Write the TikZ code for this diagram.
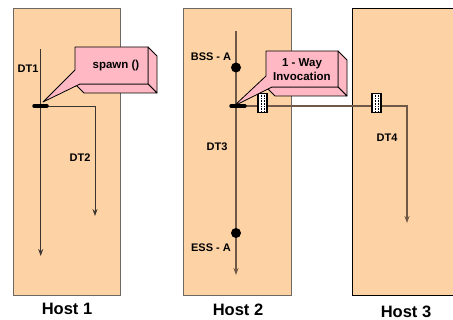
\documentclass[tikz,border=0pt]{standalone}
\usepackage{fontspec}
\setmainfont{Liberation Sans}
\usetikzlibrary{arrows.meta}
\definecolor{hostfill}{RGB}{253,211,165}
\definecolor{hostedge}{RGB}{110,104,98}
\definecolor{calloutpink}{RGB}{255,184,196}
\definecolor{thread}{RGB}{60,52,46}
\definecolor{threadb}{RGB}{112,88,70}
\tikzset{
  host/.style={fill=hostfill,draw=hostedge,line width=0.9pt},
  lbl/.style={font=\fontsize{11}{12}\selectfont\bfseries,inner sep=0pt},
  hostlbl/.style={font=\fontsize{16.5}{18}\selectfont\bfseries,inner sep=0pt},
  thr/.style={draw=thread,line width=0.9pt},
  thrb/.style={draw=threadb,line width=1.6pt},
  tip/.style={-{Stealth[length=7pt,width=5pt]}},
  bar/.style={line width=3.5pt,line cap=round,black},
  dot/.style={circle,fill=black,inner sep=0pt,minimum size=10pt},
  call/.style={fill=calloutpink,draw=black,line width=0.8pt,line join=round},
  msg/.style={fill=white,draw=black,line width=1.2pt,minimum width=9pt,minimum height=19pt,inner sep=0pt}
}
\begin{document}
\begin{tikzpicture}[x=1pt,y=-1pt]
\useasboundingbox (0,0) rectangle (453,320);
\clip (0,0) rectangle (453,320);
% hosts
\path[host] (13,8) rectangle (120.5,295);
\path[host] (183,8) rectangle (291.5,295);
\path[host,draw=black] (352.5,8) rectangle (470,295);
\node[hostlbl] (h1) at (67,308.5) {Host 1};
\node[hostlbl] (h2) at (238,310) {Host 2};
\node[hostlbl] (h3) at (406,312) {Host 3};
% host 1 threads
\coordinate (dt1top) at (40.7,49);
\coordinate (dt1end) at (40.7,256);
\coordinate (fork1) at (40.7,106);
\coordinate (dt2corner) at (95,106);
\coordinate (dt2end) at (95,216);
\draw[thr,tip] (dt1top) -- (dt1end);
\draw[thr,tip] (fork1) -- (dt2corner) -- (dt2end);
\draw[bar] (34,106) -- (47,106);
\node[lbl] (dt1) at (28,69) {DT1};
\node[lbl] (dt2) at (80,158) {DT2};
% spawn callout
\path[call] (148,47) -- (157,56) -- (157,93) -- (148,84) -- cycle;
\path[call] (75,84) -- (148,84) -- (157,93) -- (84,93) -- cycle;
\path[call] (75,47) -- (148,47) -- (148,84) -- (80,84) -- (43,102) -- (75,70) -- cycle;
\node[lbl,font=\fontsize{11.5}{12}\selectfont\bfseries] (spawn) at (116,66) {spawn ()};
% host 2 threads
\coordinate (dt3top) at (236,31);
\coordinate (dt3end) at (236,275);
\coordinate (fork2) at (236,106);
\coordinate (dt4corner) at (407,106);
\coordinate (dt4end) at (407,223);
\draw[thrb,tip] (dt3top) -- (dt3end);
\draw[draw=threadb,line width=1.1pt,tip] (fork2) -- (dt4corner) -- (dt4end);
\draw[bar] (231,106) -- (245,106);
\node[dot] (bss) at (236,67.5) {};
\node[dot] (ess) at (236,233) {};
\node[lbl] (bsslbl) at (211,57) {BSS - A};
\node[lbl] (esslbl) at (211,248) {ESS - A};
\node[lbl] (dt3) at (217,147) {DT3};
\node[lbl] (dt4) at (387,138) {DT4};
% message boxes
\node[msg] (m1) at (262.5,103) {};
\node[msg] (m2) at (376.5,103) {};
\foreach \m in {m1,m2}{
  \draw[densely dotted,line width=0.6pt] ([xshift=-1.5pt,yshift=-2pt]\m.north) -- ([xshift=-1.5pt,yshift=2pt]\m.south);
  \draw[densely dotted,line width=0.6pt] ([xshift=1.5pt,yshift=-2pt]\m.north) -- ([xshift=1.5pt,yshift=2pt]\m.south);
}
% invocation callout
\path[call] (338,51) -- (347,60) -- (347,96) -- (338,87) -- cycle;
\path[call] (266,87) -- (338,87) -- (347,96) -- (275,96) -- cycle;
\path[call] (266,51) -- (338,51) -- (338,87) -- (272,87) -- (234,106) -- (266,76) -- cycle;
\node[lbl,font=\fontsize{11.5}{12}\selectfont\bfseries,align=center] (inv) at (302,69.5) {1 - Way\\[1.5pt]Invocation};
\end{tikzpicture}
\end{document}
